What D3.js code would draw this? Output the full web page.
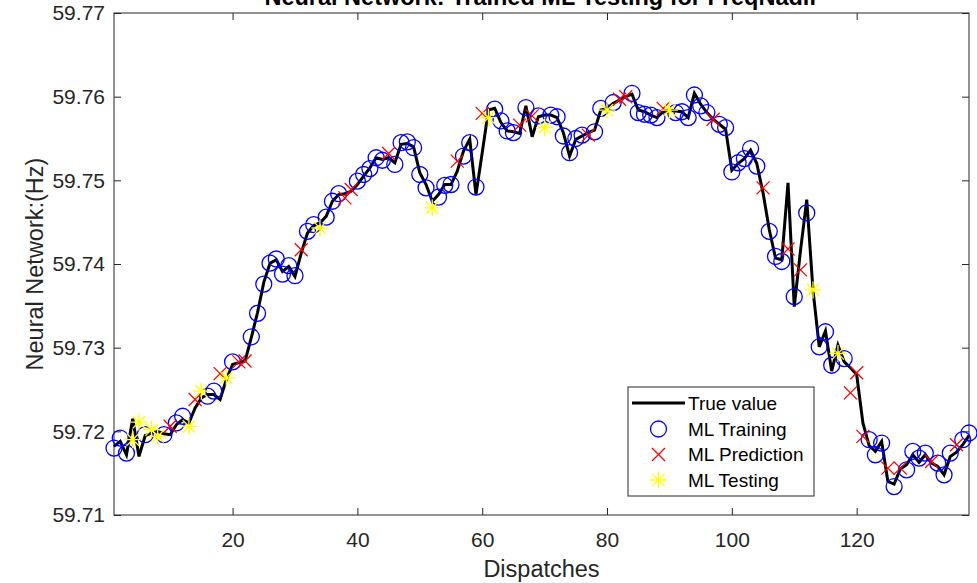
<!DOCTYPE html>
<html>
<head>
<meta charset="utf-8">
<script src="https://cdn.jsdelivr.net/npm/d3@7"></script>
<style>
  body { margin: 0; background: #fff; }
  svg { display: block; }
  text { font-family: "Liberation Sans", Arial, Helvetica, sans-serif; }
</style>
</head>
<body>
<div id="chart"></div>
<script>
// Sand værdi (True value) for dispatch 1..138
const trueValue = [
  59.7182, 59.7188, 59.7172, 59.7215, 59.7170, 59.7195, 59.7198, 59.7200, 59.7197, 59.7196,
  59.7208, 59.7214, 59.7210, 59.7228, 59.7240, 59.7244, 59.7244, 59.7238, 59.7262, 59.7280,
  59.7282, 59.7284, 59.7312, 59.7342, 59.7378, 59.7401, 59.7405, 59.7391, 59.7397, 59.7385,
  59.7413, 59.7437, 59.7446, 59.7449, 59.7457, 59.7475, 59.7483, 59.7484, 59.7487, 59.7495,
  59.7505, 59.7515, 59.7527, 59.7525, 59.7527, 59.7521, 59.7543, 59.7544, 59.7540, 59.7509,
  59.7495, 59.7475, 59.7483, 59.7495, 59.7495, 59.7511, 59.7535, 59.7549, 59.7483, 59.7533,
  59.7584, 59.7586, 59.7569, 59.7559, 59.7558, 59.7556, 59.7589, 59.7552, 59.7576, 59.7578,
  59.7578, 59.7575, 59.7557, 59.7529, 59.7549, 59.7553, 59.7557, 59.7560, 59.7584, 59.7586,
  59.7592, 59.7596, 59.7600, 59.7603, 59.7584, 59.7582, 59.7578, 59.7575, 59.7582, 59.7584,
  59.7583, 59.7582, 59.7575, 59.7604, 59.7591, 59.7581, 59.7573, 59.7567, 59.7561, 59.7512,
  59.7520, 59.7526, 59.7536, 59.7520, 59.7485, 59.7441, 59.7407, 59.7405, 59.7497, 59.7349,
  59.7416, 59.7477, 59.7369, 59.7301, 59.7320, 59.7272, 59.7303, 59.7283, 59.7276, 59.7268,
  59.7210, 59.7183, 59.7176, 59.7188, 59.7140, 59.7137, 59.7155, 59.7160, 59.7172, 59.7163,
  59.7172, 59.7162, 59.7158, 59.7148, 59.7170, 59.7175, 59.7184, 59.7195
];

// ML Training (blå cirkler)
const trainIdx = [1, 2, 3, 6, 9, 11, 12, 16, 17, 20, 23, 24, 25, 26, 27, 28, 29, 30, 32, 33,
  35, 36, 37, 40, 41, 42, 43, 44, 46, 47, 48, 49, 50, 51, 53, 54, 55, 57, 58, 59,
  62, 63, 64, 65, 67, 69, 71, 72, 73, 74, 75, 76, 78, 79, 81, 84, 85, 86, 87, 88,
  91, 92, 93, 94, 95, 96, 98, 99, 100, 101, 102, 103, 104, 106, 107, 108, 110, 112, 114, 115,
  116, 118, 122, 123, 124, 126, 128, 129, 130, 131, 133, 134, 135, 137, 138];
const trainVal = [59.7180, 59.7192, 59.7174, 59.7196, 59.7196, 59.7210, 59.7218, 59.7242, 59.7248, 59.7283,
  59.7313, 59.7341, 59.7376, 59.7401, 59.7406, 59.7388, 59.7398, 59.7386, 59.7439, 59.7447,
  59.7456, 59.7475, 59.7484, 59.7499, 59.7507, 59.7514, 59.7527, 59.7524, 59.7519, 59.7545,
  59.7546, 59.7539, 59.7507, 59.7491, 59.7480, 59.7494, 59.7495, 59.7529, 59.7545, 59.7492,
  59.7585, 59.7571, 59.7559, 59.7557, 59.7587, 59.7577, 59.7578, 59.7576, 59.7553, 59.7533,
  59.7550, 59.7554, 59.7558, 59.7586, 59.7593, 59.7604, 59.7581, 59.7579, 59.7578, 59.7575,
  59.7581, 59.7582, 59.7575, 59.7602, 59.7589, 59.7581, 59.7567, 59.7563, 59.7510, 59.7521,
  59.7526, 59.7538, 59.7517, 59.7439, 59.7409, 59.7403, 59.7361, 59.7461, 59.7301, 59.7319,
  59.7279, 59.7287, 59.7190, 59.7172, 59.7186, 59.7134, 59.7154, 59.7176, 59.7168, 59.7174,
  59.7162, 59.7148, 59.7174, 59.7190, 59.7198];

// ML Prediction (røde kryds)
const predIdx = [10, 14, 18, 21, 22, 31, 38, 39, 45, 56, 60, 66, 68, 77, 82, 83, 89, 97, 105, 109,
  111, 119, 120, 121, 125, 127, 132, 136];
const predVal = [59.7206, 59.7238, 59.7269, 59.7283, 59.7284, 59.7417, 59.7479, 59.7489, 59.7532, 59.7523,
  59.7580, 59.7566, 59.7577, 59.7554, 59.7597, 59.7600, 59.7586, 59.7573, 59.7491, 59.7418,
  59.7393, 59.7246, 59.7270, 59.7194, 59.7156, 59.7156, 59.7164, 59.7184];

// ML Testing (gule stjerner)
const testIdx = [4, 5, 7, 8, 13, 15, 19, 34, 52, 61, 70, 80, 90, 113, 117];
const testVal = [59.7190, 59.7211, 59.7202, 59.7194, 59.7206, 59.7248, 59.7264, 59.7443, 59.7467, 59.7575,
  59.7563, 59.7584, 59.7584, 59.7369, 59.7293];

const xTicks = [20, 40, 60, 80, 100, 120];
const yTicks = [59.71, 59.72, 59.73, 59.74, 59.75, 59.76, 59.77];
const legendLabels = ["True value", "ML Training", "ML Prediction", "ML Testing"];

// Dimensioner
const w = 977, h = 583;
const pLeft = 114, pRight = 969, pTop = 13, pBottom = 515;
const axisColor = "#262626";

const x = d3.scaleLinear().domain([1, 138]).range([pLeft, pRight]);
const y = d3.scaleLinear().domain([59.71, 59.77]).range([pBottom, pTop]);

const svg = d3.select("#chart").append("svg")
  .attr("width", w).attr("height", h);

svg.append("rect").attr("width", w).attr("height", h).attr("fill", "#fff");

// Akser (ticks indad som i MATLAB)
const fmt = d3.format(".2f");
const gx = svg.append("g").attr("transform", `translate(0,${pBottom})`)
  .call(d3.axisBottom(x).tickValues(xTicks).tickSizeInner(-7).tickSizeOuter(0).tickPadding(17));
const gy = svg.append("g").attr("transform", `translate(${pLeft},0)`)
  .call(d3.axisLeft(y).tickValues(yTicks).tickFormat(fmt).tickSizeInner(-7).tickSizeOuter(0).tickPadding(9));
const gt = svg.append("g").attr("transform", `translate(0,${pTop})`)
  .call(d3.axisTop(x).tickValues(xTicks).tickFormat("").tickSizeInner(-7).tickSizeOuter(0));
const gr = svg.append("g").attr("transform", `translate(${pRight},0)`)
  .call(d3.axisRight(y).tickValues(yTicks).tickFormat("").tickSizeInner(-7).tickSizeOuter(0));

[gx, gy, gt, gr].forEach(g => {
  g.select(".domain").remove();
  g.selectAll("line").attr("stroke", axisColor).attr("stroke-width", 1);
  g.selectAll("text").attr("fill", axisColor).style("font-size", "21px");
});

svg.append("rect")
  .attr("x", pLeft).attr("y", pTop)
  .attr("width", pRight - pLeft).attr("height", pBottom - pTop)
  .attr("fill", "none").attr("stroke", axisColor).attr("stroke-width", 1);

// True value linje
const line = d3.line().x((d, i) => x(i + 1)).y(d => y(d));
svg.append("path").datum(trueValue)
  .attr("d", line)
  .attr("fill", "none").attr("stroke", "#000").attr("stroke-width", 3)
  .attr("stroke-linejoin", "miter");

// Markør-funktioner
function crossPath(cx, cy, s) {
  const p = d3.path();
  p.moveTo(cx - s, cy - s); p.lineTo(cx + s, cy + s);
  p.moveTo(cx - s, cy + s); p.lineTo(cx + s, cy - s);
  return p.toString();
}
function starPath(cx, cy, s) {
  const p = d3.path();
  const d = s * 0.72;
  p.moveTo(cx, cy - s); p.lineTo(cx, cy + s);
  p.moveTo(cx - s, cy); p.lineTo(cx + s, cy);
  p.moveTo(cx - d, cy - d); p.lineTo(cx + d, cy + d);
  p.moveTo(cx - d, cy + d); p.lineTo(cx + d, cy - d);
  return p.toString();
}

svg.append("g").selectAll("circle")
  .data(trainIdx.map((k, i) => [k, trainVal[i]]))
  .join("circle")
  .attr("cx", d => x(d[0])).attr("cy", d => y(d[1])).attr("r", 8)
  .attr("fill", "none").attr("stroke", "#0000ff").attr("stroke-width", 1.3);

svg.append("g").selectAll("path")
  .data(predIdx.map((k, i) => [k, predVal[i]]))
  .join("path")
  .attr("d", d => crossPath(x(d[0]), y(d[1]), 6.5))
  .attr("fill", "none").attr("stroke", "#ff0000").attr("stroke-width", 1.3);

svg.append("g").selectAll("path")
  .data(testIdx.map((k, i) => [k, testVal[i]]))
  .join("path")
  .attr("d", d => starPath(x(d[0]), y(d[1]), 8.5))
  .attr("fill", "none").attr("stroke", "#ffff00").attr("stroke-width", 1.3);

// Titel og aksetitler
svg.append("text")
  .attr("x", (pLeft + pRight) / 2).attr("y", 5)
  .attr("text-anchor", "middle")
  .style("font-size", "23.5px").style("font-weight", "bold")
  .attr("fill", "#000")
  .text("Neural Network: Trained ML Testing for FreqNadir");

svg.append("text")
  .attr("x", (pLeft + pRight) / 2).attr("y", 577)
  .attr("text-anchor", "middle")
  .style("font-size", "23.5px").attr("fill", axisColor)
  .text("Dispatches");

svg.append("text")
  .attr("transform", `translate(43,${(pTop + pBottom) / 2}) rotate(-90)`)
  .attr("text-anchor", "middle")
  .style("font-size", "23.5px").attr("fill", axisColor)
  .text("Neural Network:(Hz)");

// Legende
const lg = svg.append("g");
lg.append("rect")
  .attr("x", 628).attr("y", 387).attr("width", 186).attr("height", 109)
  .attr("fill", "#fff").attr("stroke", axisColor).attr("stroke-width", 1);
const rowY = [403, 429, 454.5, 480];
lg.append("line").attr("x1", 632).attr("x2", 685).attr("y1", rowY[0]).attr("y2", rowY[0])
  .attr("stroke", "#000").attr("stroke-width", 3);
lg.append("circle").attr("cx", 658.5).attr("cy", rowY[1]).attr("r", 8)
  .attr("fill", "none").attr("stroke", "#0000ff").attr("stroke-width", 1.3);
lg.append("path").attr("d", crossPath(658.5, rowY[2], 6.5))
  .attr("fill", "none").attr("stroke", "#ff0000").attr("stroke-width", 1.3);
lg.append("path").attr("d", starPath(658.5, rowY[3], 8.5))
  .attr("fill", "none").attr("stroke", "#ffff00").attr("stroke-width", 1.3);
lg.selectAll("text.lbl").data(legendLabels).join("text")
  .attr("class", "lbl")
  .attr("x", 688).attr("y", (d, i) => rowY[i]).attr("dy", "0.35em")
  .style("font-size", "19px").attr("fill", "#000")
  .text(d => d);
</script>
</body>
</html>
